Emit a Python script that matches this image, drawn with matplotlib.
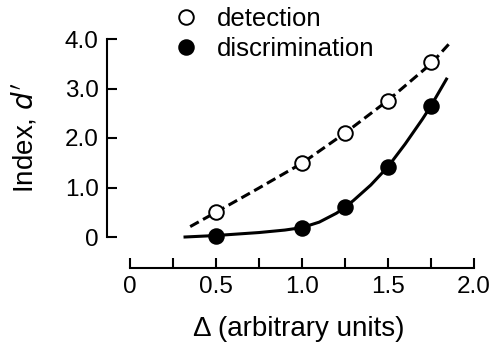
import matplotlib
matplotlib.use("Agg")
import matplotlib.pyplot as plt
from matplotlib.ticker import FixedLocator

plt.rcParams['font.family'] = ['Liberation Sans', 'DejaVu Sans']

# data points
delta = [0.5, 1.0, 1.25, 1.5, 1.75]
detection = [0.50, 1.49, 2.11, 2.75, 3.54]
discrimination = [0.02, 0.19, 0.61, 1.42, 2.65]

# fitted curves
det_fit_x = [0.35, 0.5, 0.75, 1.0, 1.25, 1.5, 1.75, 1.865]
det_fit_y = [0.21, 0.50, 0.99, 1.49, 2.10, 2.76, 3.50, 3.94]
dis_fit_x = [0.32, 0.5, 0.75, 0.9, 1.0, 1.1, 1.2, 1.25, 1.3, 1.4, 1.5, 1.6, 1.7, 1.75, 1.84]
dis_fit_y = [0.0, 0.03, 0.09, 0.14, 0.19, 0.30, 0.48, 0.60, 0.74, 1.05, 1.42, 1.88, 2.38, 2.65, 3.19]

xticks = [0, 0.5, 1.0, 1.5, 2.0]
xticklabels = ['0', '0.5', '1.0', '1.5', '2.0']
xminor = [0.25, 0.75, 1.25, 1.75]
yticks = [0, 1, 2, 3, 4]
yticklabels = ['0', '1.0', '2.0', '3.0', '4.0']

W, H = 494, 349
fig = plt.figure(figsize=(W/100, H/100), dpi=100)
ax = fig.add_axes([130/W, 1-237/H, 344/W, 198/H])

ax.plot(det_fit_x, det_fit_y, color='black', lw=2.2, ls=(0, (3.2, 1.6)), clip_on=False)
ax.plot(dis_fit_x, dis_fit_y, color='black', lw=2.2, clip_on=False)
h1, = ax.plot(delta, detection, 'o', ms=10.5, mfc='white', mec='black', mew=1.4,
              ls='none', clip_on=False, zorder=3, label='detection')
h2, = ax.plot(delta, discrimination, 'o', ms=10.5, mfc='black', mec='black', mew=1.4,
              ls='none', clip_on=False, zorder=3, label='discrimination')

ax.set_xlim(0, 2.0)
ax.set_ylim(0, 4.0)

for s in ['top', 'right']:
    ax.spines[s].set_visible(False)
ax.spines['left'].set_position(('axes', -23/344))
ax.spines['bottom'].set_position(('axes', -31/198))
ax.spines['left'].set_bounds(0, 4)
ax.spines['bottom'].set_bounds(0, 2)
ax.spines['left'].set_linewidth(1.5)
ax.spines['bottom'].set_linewidth(1.5)

ax.set_xticks(xticks)
ax.set_xticklabels(xticklabels)
ax.xaxis.set_minor_locator(FixedLocator(xminor))
ax.set_yticks(yticks)
ax.set_yticklabels(yticklabels)
ax.tick_params(axis='x', which='both', direction='in', length=7, width=1.5, pad=6, labelsize=17.5)
ax.tick_params(axis='y', which='both', direction='in', length=7, width=1.5, pad=6, labelsize=17.5)

ax.set_ylabel("Index, $d'$", fontsize=20)
ax.yaxis.set_label_coords(-0.265, 0.5)
ax.set_xlabel("Δ (arbitrary units)", fontsize=20)
ax.xaxis.set_label_coords(0.49, -0.40)

fig.legend(handles=[h1, h2], loc='upper left', bbox_to_anchor=(173/W, 1 - 7/H),
           frameon=False, fontsize=18.5, handlelength=1.0, handletextpad=0.7,
           labelspacing=0.25, borderpad=0, borderaxespad=0)

fig.savefig('out.png', dpi=100)
